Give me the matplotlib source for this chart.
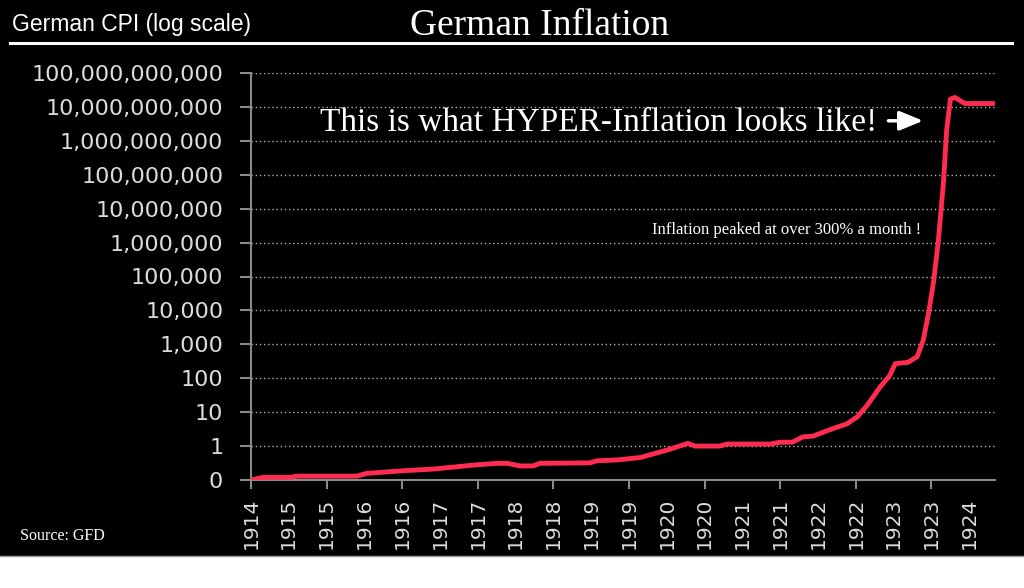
import numpy as np
import matplotlib
matplotlib.use("Agg")
import matplotlib.pyplot as plt
from matplotlib.lines import Line2D
from matplotlib.patches import Rectangle

# German CPI (decimal year, index value)
years = [1914.5, 1914.66, 1915.02, 1915.11, 1915.9, 1916.03, 1916.25, 1916.56,
         1916.91, 1917.44, 1917.75, 1917.89, 1918.06, 1918.23, 1918.32, 1918.98,
         1919.08, 1919.34, 1919.65, 1920.0, 1920.28, 1920.37, 1920.7, 1920.8,
         1921.37, 1921.5, 1921.66, 1921.8, 1921.93, 1922.2, 1922.38, 1922.52,
         1922.65, 1922.82, 1922.95, 1923.02, 1923.19, 1923.31, 1923.39, 1923.46,
         1923.53, 1923.59, 1923.66, 1923.7, 1923.75, 1923.81, 1923.94, 1924.32]
cpi = [0.1, 0.12, 0.12, 0.13, 0.13, 0.157, 0.17, 0.19,
       0.21, 0.275, 0.31, 0.31, 0.26, 0.26, 0.31, 0.32,
       0.37, 0.39, 0.46, 0.76, 1.2, 1.0, 1.0, 1.15,
       1.15, 1.3, 1.3, 1.87, 1.96, 3.3, 4.5, 7.3,
       16, 55, 122, 270, 295, 430, 1300, 8000,
       7.6e4, 1.1e6, 6.6e7, 2e9, 1.7e10, 1.9e10, 1.26e10, 1.26e10]

# x ticks every half year, labelled by year only
x_ticks = [1914.5 + 0.5 * i for i in range(20)]
x_labels = ['1914', '1915', '1915', '1916', '1916', '1917', '1917', '1918',
            '1918', '1919', '1919', '1920', '1920', '1921', '1921', '1922',
            '1922', '1923', '1923', '1924']
y_ticks = [10.0 ** k for k in range(-1, 12)]
y_labels = ['0', '1', '10', '100', '1,000', '10,000', '100,000', '1,000,000',
            '10,000,000', '100,000,000', '1,000,000,000', '10,000,000,000',
            '100,000,000,000']

W, H = 1024, 588
fig = plt.figure(figsize=(W / 100, H / 100), dpi=100, facecolor='black')
ax = fig.add_axes([251 / W, 1 - 480 / H, 744 / W, 407 / H])
ax.set_facecolor('black')

ax.plot(years, cpi, color='#ff2b50', lw=3.5, solid_joinstyle='round',
        solid_capstyle='round', zorder=3)

ax.set_yscale('log')
ax.set_ylim(0.1, 1e11)
ax.set_xlim(1914.5, 1924.34)

ax.set_yticks(y_ticks)
ax.set_yticklabels(y_labels)
ax.yaxis.set_minor_locator(matplotlib.ticker.NullLocator())
ax.set_xticks(x_ticks)
ax.set_xticklabels(x_labels, rotation=90)

grey = '#8a8a8a'
for sp in ['top', 'right']:
    ax.spines[sp].set_visible(False)
for sp in ['left', 'bottom']:
    ax.spines[sp].set_color(grey)
    ax.spines[sp].set_linewidth(1.5)

ax.tick_params(axis='y', colors=grey, labelcolor='#dcdcdc', length=8,
               width=1.5, pad=12, labelsize=16)
ax.tick_params(axis='x', colors=grey, labelcolor='#dcdcdc', length=6.5,
               width=1.5, pad=6, labelsize=14.5)
for lab in ax.get_yticklabels() + ax.get_xticklabels():
    lab.set_family('DejaVu Sans')

# only yearly tick marks on the x axis
for i, t in enumerate(ax.xaxis.get_major_ticks()):
    if i % 2 == 1:
        t.tick1line.set_visible(False)

for v in y_ticks[1:]:
    ax.axhline(v, color='#b0b0b0', lw=1, ls=(0, (1, 2)), zorder=1)

# header
fig.text(540 / W, 1 - 35 / H, 'German Inflation', color='white',
         family='Liberation Serif', fontsize=27, ha='center', va='baseline')
fig.text(12 / W, 1 - 31 / H, 'German CPI (log scale)', color='white',
         family='Liberation Sans', fontsize=16.5, ha='left', va='baseline')
fig.add_artist(Line2D([10 / W, 1012 / W], [1 - 43 / H, 1 - 43 / H],
                      color='white', lw=2.2))

# annotations
fig.text(320 / W, 1 - 131 / H, 'This is what HYPER-Inflation looks like!',
         color='white', family='Liberation Serif', fontsize=24,
         ha='left', va='baseline')
ax.annotate('', xy=(1923.39, 3.9e9), xytext=(1922.93, 3.9e9),
            arrowprops=dict(arrowstyle='-|>,head_length=1.1,head_width=0.45',
                            mutation_scale=13, color='white', lw=2.5,
                            shrinkA=0, shrinkB=0))
fig.text(652 / W, 1 - 234 / H, 'Inflation peaked at over 300% a month !',
         color='white', family='Liberation Serif', fontsize=12,
         ha='left', va='baseline')
fig.text(20 / W, 1 - 540 / H, 'Source: GFD', color='white',
         family='Liberation Serif', fontsize=11.5, ha='left', va='baseline')

# white strip at the bottom
fig.add_artist(Rectangle((0, 0), 1, 32 / H, transform=fig.transFigure,
                         facecolor='white', edgecolor='none'))
fig.add_artist(Line2D([0, 1], [32 / H, 32 / H], color='#9a9a9a', lw=1))

fig.savefig('out.png', dpi=100, facecolor='black')
